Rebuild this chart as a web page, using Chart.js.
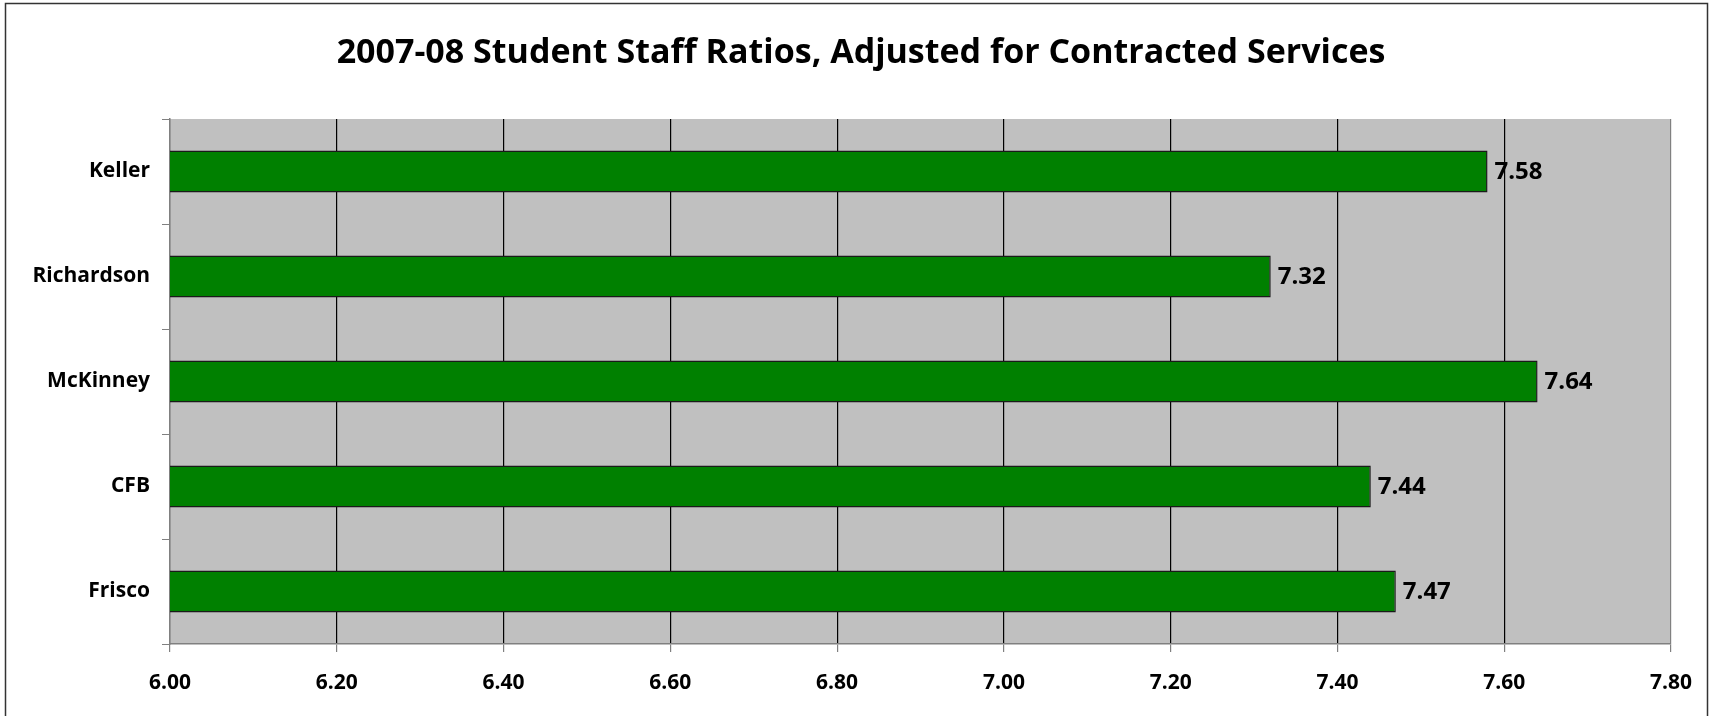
<!DOCTYPE html>
<html>
<head>
<meta charset="utf-8">
<title>Student Staff Ratios</title>
<script src="https://cdn.jsdelivr.net/npm/chart.js@4"></script>
<style>
    html, body { margin: 0; padding: 0; background: #fff; }
    #wrap { width: 1711px; height: 716px; }
</style>
</head>
<body>
<div id="wrap"><canvas id="myBarChart" width="1711" height="716"></canvas></div>
<script>
const districts = ['Keller', 'Richardson', 'McKinney', 'CFB', 'Frisco'];
const ratios = [7.58, 7.32, 7.64, 7.44, 7.47];
const xTicks = [6.00, 6.20, 6.40, 6.60, 6.80, 7.00, 7.20, 7.40, 7.60, 7.80];
const chartTitle = '2007-08 Student Staff Ratios, Adjusted for Contracted Services';

const FONT = '"Open Sans", Lato, sans-serif';

// grey plot area, outer frame and title
const backdrop = {
    id: 'backdrop',
    beforeDraw(chart) {
        const { ctx, chartArea } = chart;
        ctx.save();
        ctx.fillStyle = '#fff';
        ctx.fillRect(0, 0, chart.width, chart.height);
        ctx.fillStyle = '#C0C0C0';
        ctx.fillRect(chartArea.left, chartArea.top, chartArea.right - chartArea.left, chartArea.bottom - chartArea.top);
        ctx.strokeStyle = '#333';
        ctx.lineWidth = 1.5;
        ctx.strokeRect(5.5, 3.5, 1702, 800);

        ctx.font = 'bold 34px ' + FONT;
        ctx.fillStyle = '#000';
        ctx.textAlign = 'center';
        ctx.textBaseline = 'middle';
        ctx.fillText(chartTitle, 861, 53);
        ctx.restore();
    }
};

// value labels at the end of each bar
const barLabels = {
    id: 'barLabels',
    afterDatasetsDraw(chart) {
        const { ctx } = chart;
        const meta = chart.getDatasetMeta(0);
        ctx.save();
        ctx.font = 'bold 24px ' + FONT;
        ctx.fillStyle = '#000';
        ctx.textAlign = 'left';
        ctx.textBaseline = 'middle';
        meta.data.forEach((bar, i) => {
            ctx.fillText(ratios[i].toFixed(2), bar.x + 7, bar.y + 1);
        });
        ctx.restore();
    }
};

new Chart(document.querySelector('#myBarChart'), {
    type: 'bar',
    data: {
        labels: districts,
        datasets: [{
            data: ratios,
            backgroundColor: '#008000',
            borderColor: '#1a1a1a',
            borderWidth: 1.5,
            borderSkipped: false,
            categoryPercentage: 1,
            barPercentage: 0.4
        }]
    },
    options: {
        indexAxis: 'y',
        responsive: false,
        animation: false,
        layout: { padding: { left: 0, right: 40, top: 119, bottom: 0 } },
        plugins: {
            legend: { display: false },
            tooltip: { enabled: false },
            title: { display: false }
        },
        scales: {
            x: {
                min: 6,
                max: 7.8,
                afterBuildTicks(scale) {
                    scale.ticks = xTicks.map(v => ({ value: v }));
                },
                afterFit(scale) { scale.height = 72; },
                ticks: {
                    color: '#000',
                    font: { family: FONT, size: 21, weight: 'bold' },
                    padding: 18,
                    maxRotation: 0,
                    callback: v => Number(v).toFixed(2)
                },
                grid: {
                    color: ctx => (ctx.index === 0 || ctx.index === xTicks.length - 1) ? '#808080' : '#000',
                    lineWidth: 1.2,
                    tickColor: '#808080',
                    tickLength: 8
                },
                border: { display: true, color: '#808080', width: 1.5 }
            },
            y: {
                afterFit(scale) { scale.width = 170; },
                ticks: {
                    color: '#000',
                    font: { family: FONT, size: 21, weight: 'bold' },
                    padding: 12
                },
                grid: {
                    offset: true,
                    drawOnChartArea: false,
                    drawTicks: true,
                    tickLength: 8,
                    color: '#808080'
                },
                border: { display: true, color: '#808080', width: 1.5 }
            }
        }
    },
    plugins: [backdrop, barLabels]
});
</script>
</body>
</html>
